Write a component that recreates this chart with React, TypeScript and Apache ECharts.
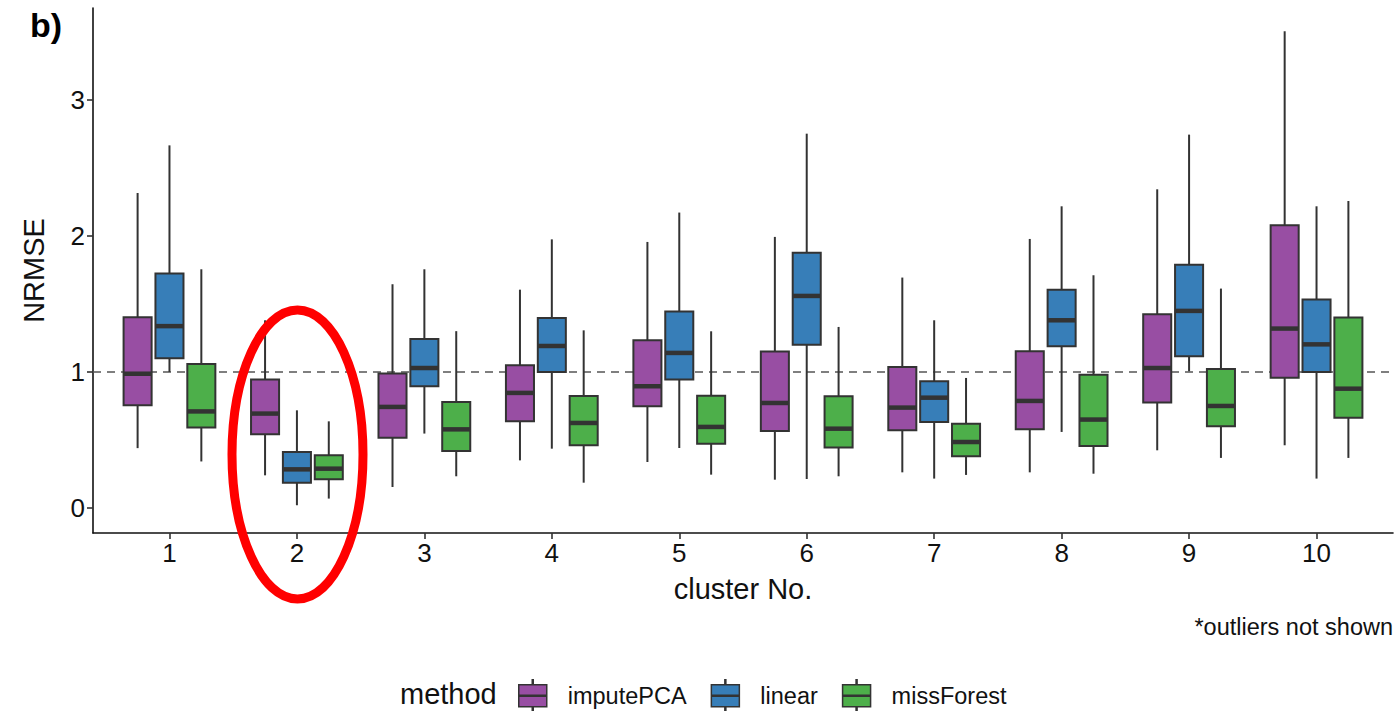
import React, { useEffect, useRef } from "react";
import * as echarts from "echarts";

// ---- data ----
const clusters = ["1", "2", "3", "4", "5", "6", "7", "8", "9", "10"];
const methods = ["imputePCA", "linear", "missForest"];
const yTicks = [0, 1, 2, 3];
const referenceLevel = 1;

// [min, Q1, median, Q3, max] per cluster (outliers not shown)
const imputePCA = [
  [0.44, 0.755, 0.987, 1.403, 2.316],
  [0.24, 0.542, 0.694, 0.944, 1.38],
  [0.154, 0.517, 0.743, 0.988, 1.645],
  [0.35, 0.637, 0.846, 1.049, 1.605],
  [0.338, 0.748, 0.895, 1.233, 1.956],
  [0.208, 0.566, 0.772, 1.15, 1.993],
  [0.262, 0.571, 0.738, 1.037, 1.694],
  [0.262, 0.578, 0.787, 1.152, 1.978],
  [0.424, 0.775, 1.029, 1.424, 2.343],
  [0.461, 0.958, 1.319, 2.078, 3.505],
];
const linear = [
  [1.0, 1.1, 1.337, 1.724, 2.666],
  [0.02, 0.186, 0.284, 0.412, 0.718],
  [0.547, 0.895, 1.029, 1.243, 1.755],
  [0.436, 1.0, 1.191, 1.397, 1.975],
  [0.441, 0.944, 1.14, 1.444, 2.172],
  [0.213, 1.2, 1.559, 1.877, 2.752],
  [0.216, 0.632, 0.811, 0.931, 1.38],
  [0.559, 1.189, 1.38, 1.605, 2.218],
  [1.005, 1.115, 1.449, 1.789, 2.745],
  [0.216, 1.0, 1.203, 1.532, 2.218],
];
const missForest = [
  [0.342, 0.592, 0.71, 1.058, 1.755],
  [0.069, 0.211, 0.289, 0.387, 0.637],
  [0.233, 0.419, 0.578, 0.78, 1.3],
  [0.186, 0.461, 0.625, 0.824, 1.306],
  [0.245, 0.473, 0.596, 0.826, 1.299],
  [0.233, 0.444, 0.583, 0.821, 1.331],
  [0.243, 0.38, 0.485, 0.62, 0.956],
  [0.252, 0.456, 0.65, 0.98, 1.711],
  [0.368, 0.6, 0.75, 1.022, 1.613],
  [0.368, 0.664, 0.877, 1.4, 2.257],
];

// ---- styling ----
const COLORS = ["#984EA3", "#377EB8", "#4DAF4A"];
const DODGE = [-0.25, 0, 0.25];
const BOX_W = 0.22;
const X_MIN = 0.4;
const X_MAX = 10.6;
const Y_MIN = -0.184;
const Y_MAX = 3.676;
const FONT = "'Liberation Sans', Arial, Helvetica, sans-serif";
const INK = "#333333";

const LEGEND_ICON =
  "path://M14.5,0 L15.5,0 L15.5,5 L14.5,5 Z M1,5 L29,5 L29,15.5 L1,15.5 Z M1,16.5 L29,16.5 L29,27 L1,27 Z M14.5,27 L15.5,27 L15.5,32 L14.5,32 Z";

function buildSeriesData(stats: number[][], k: number) {
  return stats.map((s, i) => [i + 1 + DODGE[k], s[0], s[1], s[2], s[3], s[4]]);
}

export default function App() {
  const ref = useRef<HTMLDivElement>(null);

  useEffect(() => {
    if (!ref.current) return;
    const chart = echarts.init(ref.current, null, { renderer: "svg" });
    const allStats = [imputePCA, linear, missForest];

    const boxSeries = methods.map((name, k) => ({
      name,
      type: "custom",
      z: 3,
      itemStyle: { color: COLORS[k] },
      encode: { x: 0, y: [1, 2, 3, 4, 5] },
      data: buildSeriesData(allStats[k], k),
      renderItem: (params: any, api: any) => {
        const x = api.value(0);
        const lo = api.coord([x, api.value(1)]);
        const q1 = api.coord([x, api.value(2)]);
        const md = api.coord([x, api.value(3)]);
        const q3 = api.coord([x, api.value(4)]);
        const hi = api.coord([x, api.value(5)]);
        const w = api.size([BOX_W, 0])[0];
        const color = api.visual("color");
        const whisker = { stroke: INK, lineWidth: 2 };
        return {
          type: "group",
          children: [
            { type: "line", shape: { x1: lo[0], y1: lo[1], x2: q1[0], y2: q1[1] }, style: whisker },
            { type: "line", shape: { x1: q3[0], y1: q3[1], x2: hi[0], y2: hi[1] }, style: whisker },
            {
              type: "rect",
              shape: { x: q1[0] - w / 2, y: q3[1], width: w, height: q1[1] - q3[1] },
              style: { fill: color, stroke: INK, lineWidth: 2 },
            },
            {
              type: "line",
              shape: { x1: md[0] - w / 2, y1: md[1], x2: md[0] + w / 2, y2: md[1] },
              style: { stroke: INK, lineWidth: 4.5 },
            },
          ],
        };
      },
    }));

    const option: any = {
      animation: false,
      backgroundColor: "#ffffff",
      textStyle: { fontFamily: FONT },
      grid: { left: 93, right: 3, top: 8, bottom: 178, containLabel: false },
      xAxis: {
        type: "value",
        min: X_MIN,
        max: X_MAX,
        name: "cluster No.",
        nameLocation: "middle",
        nameGap: 41,
        nameTextStyle: { fontSize: 29, color: "#111", fontFamily: FONT },
        axisLine: { show: true, onZero: false, lineStyle: { color: "#111", width: 1.6 } },
        axisTick: {
          show: true,
          length: 6,
          customValues: clusters.map((_, i) => i + 1),
          lineStyle: { color: INK, width: 1.6 },
        },
        axisLabel: {
          customValues: clusters.map((_, i) => i + 1),
          formatter: (v: number) => clusters[Math.round(v) - 1] ?? "",
          fontSize: 26,
          color: "#111",
          margin: 7,
          fontFamily: FONT,
        },
        splitLine: { show: false },
      },
      yAxis: {
        type: "value",
        min: Y_MIN,
        max: Y_MAX,
        name: "NRMSE",
        nameLocation: "middle",
        nameRotate: 90,
        nameGap: 45,
        nameTextStyle: { fontSize: 29, color: "#111", fontFamily: FONT },
        axisLine: { show: true, onZero: false, lineStyle: { color: "#111", width: 1.6 } },
        axisTick: {
          show: true,
          length: 6,
          customValues: yTicks,
          lineStyle: { color: INK, width: 1.6 },
        },
        axisLabel: {
          customValues: yTicks,
          fontSize: 26,
          color: "#111",
          margin: 8,
          fontFamily: FONT,
        },
        splitLine: { show: false },
      },
      legend: {
        data: methods,
        left: 518,
        top: 679,
        padding: 0,
        orient: "horizontal",
        icon: LEGEND_ICON,
        itemWidth: 30,
        itemHeight: 32,
        itemGap: 24,
        itemStyle: { borderColor: INK, borderWidth: 1.5 },
        textStyle: { fontSize: 23.5, color: "#111", fontFamily: FONT, padding: [0, 0, 0, 15] },
        selectedMode: false,
      },
      graphic: [
        {
          type: "text",
          left: 30,
          top: 8,
          style: { text: "b)", fontSize: 34, fontWeight: "bold", fill: "#000", fontFamily: FONT },
        },
        {
          type: "text",
          right: 3,
          top: 615,
          style: { text: "*outliers not shown", fontSize: 23.5, fill: "#111", fontFamily: FONT },
        },
        {
          type: "text",
          left: 400,
          top: 679,
          style: { text: "method", fontSize: 29, fill: "#111", fontFamily: FONT },
        },
        {
          type: "ellipse",
          z: 100,
          shape: { cx: 297.5, cy: 454.5, rx: 65.5, ry: 144.5 },
          style: { fill: "none", stroke: "#FF0000", lineWidth: 9 },
          silent: true,
        },
      ],
      series: [
        {
          name: "reference",
          type: "line",
          z: 1,
          silent: true,
          symbol: "none",
          data: [
            [X_MIN, referenceLevel],
            [X_MAX, referenceLevel],
          ],
          lineStyle: { color: "#555", width: 1.6, type: [8, 6] },
        },
        ...boxSeries,
      ],
    };

    chart.setOption(option);
    return () => chart.dispose();
  }, []);

  return <div ref={ref} style={{ width: 1396, height: 711, position: "absolute", left: 0, top: 0 }} />;
}
